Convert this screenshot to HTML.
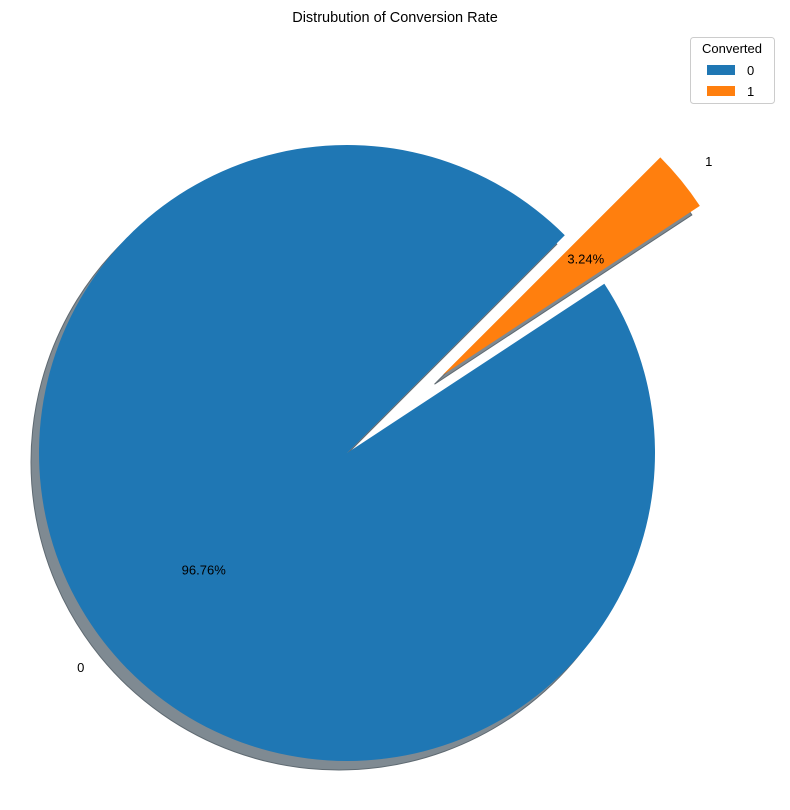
<!DOCTYPE html>
<html><head><meta charset="utf-8"><style>
body{margin:0;background:#fff;}
svg{display:block;font-family:"Liberation Sans","DejaVu Sans",sans-serif;}
</style></head><body>
<svg id="chart" width="790" height="810">
<text x="395" y="22" text-anchor="middle" font-size="14.5">Distrubution of Conversion Rate</text>
<g id="shadows"></g><g id="slices"></g><g id="labels"></g>
<g>
<rect x="690.5" y="37.5" width="84" height="66" rx="3" fill="#fff" stroke="#ccc"/>
<text x="732" y="53" text-anchor="middle" font-size="13">Converted</text>
<g><rect x="707" y="65" width="28" height="10" fill="#1f77b4"/><text x="747" y="75" font-size="13">0</text></g>
<g><rect x="707" y="86" width="28" height="10" fill="#ff7f0e"/><text x="747" y="96" font-size="13">1</text></g>
</g>
</svg>
<script>
const categories = ["0", "1"];
const values = [96.76, 3.24];
const explode = [0, 0.4];
const colors = ["#1f77b4", "#ff7f0e"];
const cx = 347, cy = 453, R = 308, startAngle = 45;
const NS = "http://www.w3.org/2000/svg";
const total = values.reduce((a, b) => a + b, 0);
const pt = (x, y, r, deg) => [x + r * Math.cos(deg * Math.PI / 180), y - r * Math.sin(deg * Math.PI / 180)];
function arcPath(x, y, a0, a1) {
  const p0 = pt(x, y, R, a0), p1 = pt(x, y, R, a1);
  const large = (a1 - a0) > 180 ? 1 : 0;
  return `M${x},${y} L${p0[0]},${p0[1]} A${R},${R} 0 ${large} 0 ${p1[0]},${p1[1]} Z`;
}
let a = startAngle;
categories.forEach((c, i) => {
  const sweep = values[i] / total * 360;
  const mid = a + sweep / 2;
  const [ox, oy] = pt(cx, cy, explode[i] * R, mid);
  const sh = document.createElementNS(NS, "path");
  sh.setAttribute("d", arcPath(ox - 8, oy + 9, a, a + sweep));
  sh.setAttribute("fill", "#7f8a92");
  sh.setAttribute("stroke", "#5f6a72");
  
  
  document.getElementById("shadows").appendChild(sh);
  const p = document.createElementNS(NS, "path");
  p.setAttribute("d", arcPath(ox, oy, a, a + sweep));
  p.setAttribute("fill", colors[i]);
  
  
  document.getElementById("slices").appendChild(p);
  const lp = pt(ox, oy, 1.1 * R, mid);
  const t = document.createElementNS(NS, "text");
  t.setAttribute("x", lp[0]); t.setAttribute("y", lp[1] + 5);
  t.setAttribute("font-size", "13");
  t.setAttribute("text-anchor", Math.cos(mid * Math.PI / 180) >= 0 ? "start" : "end");
  t.textContent = c;
  
  
  document.getElementById("labels").appendChild(t);
  const pp = pt(ox, oy, 0.6 * R, mid);
  const t2 = document.createElementNS(NS, "text");
  t2.setAttribute("x", pp[0]); t2.setAttribute("y", pp[1] + 5);
  t2.setAttribute("font-size", "13");
  t2.setAttribute("text-anchor", "middle");
  t2.textContent = values[i].toFixed(2) + "%";
  
  
  document.getElementById("labels").appendChild(t2);
  a += sweep;
});
</script>
</body></html>
